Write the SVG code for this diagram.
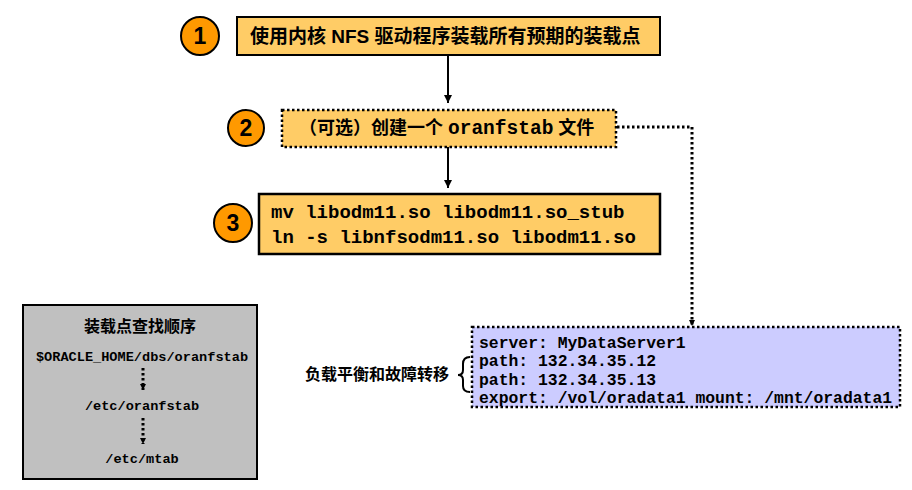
<svg xmlns="http://www.w3.org/2000/svg" width="912" height="490" viewBox="0 0 912 490">
<style>
.cn{font-family:"Liberation Sans","Noto Sans CJK SC",sans-serif;font-weight:bold;fill:#000}
.mono{font-family:"Liberation Mono","Noto Sans CJK SC",monospace;font-weight:bold;fill:#000}
.circ{fill:#FF9900;stroke:#000;stroke-width:2}
.num{font-family:"Liberation Sans",sans-serif;font-weight:bold;font-size:23px;fill:#000;text-anchor:middle}
.solid{fill:none;stroke:#000;stroke-width:2}
.dot{fill:none;stroke:#000;stroke-width:3;stroke-dasharray:2.5 2.5}
.dotbox{stroke:#000;stroke-width:2.5;stroke-dasharray:2.5 2.5}
</style>
<defs>
<marker id="ah" viewBox="0 0 8 8" refX="8" refY="4" markerWidth="8" markerHeight="8" markerUnits="userSpaceOnUse" orient="auto">
<path d="M0,0 L8,4 L0,8 z" fill="#000"/>
</marker>
<marker id="ahs" viewBox="0 0 6 6" refX="6" refY="3" markerWidth="6" markerHeight="6" markerUnits="userSpaceOnUse" orient="auto">
<path d="M0,0 L6,3 L0,6 z" fill="#000"/>
</marker>
</defs>

<g id="step1">
<circle cx="200" cy="36" r="19" class="circ"/>
<text x="200" y="44" class="num">1</text>
<rect x="237" y="17" width="423" height="38" fill="#FFCC66" stroke="#000" stroke-width="2"/>
<text x="250" y="43" class="cn" font-size="19">使用内核 NFS 驱动程序装载所有预期的装载点</text>
</g>

<g id="step2">
<circle cx="246" cy="128" r="18" class="circ"/>
<text x="246" y="136" class="num">2</text>
<rect x="282" y="110" width="334" height="37" fill="#FFCC66" class="dotbox"/>
<text x="299" y="134" class="cn" font-size="18">（可选）创建一个 <tspan class="mono" font-size="19.5">oranfstab</tspan> 文件</text>
</g>

<g id="step3">
<circle cx="233" cy="223" r="19" class="circ"/>
<text x="233" y="231" class="num">3</text>
<rect x="259" y="194" width="401" height="60" fill="#FFCC66" stroke="#000" stroke-width="2.5"/>
<text x="271" y="218" class="mono" font-size="19">mv libodm11.so libodm11.so_stub</text>
<text x="271" y="243" class="mono" font-size="19">ln -s libnfsodm11.so libodm11.so</text>
</g>

<g id="lookup">
<rect x="23" y="305" width="234" height="174" fill="#C0C0C0" stroke="#000" stroke-width="2"/>
<text x="140" y="332" class="cn" font-size="16" text-anchor="middle">装载点查找顺序</text>
<text x="142" y="361" class="mono" font-size="13.6" text-anchor="middle">$ORACLE_HOME/dbs/oranfstab</text>
<text x="142" y="410" class="mono" font-size="13.6" text-anchor="middle">/etc/oranfstab</text>
<text x="142" y="463" class="mono" font-size="13.6" text-anchor="middle">/etc/mtab</text>
</g>

<g id="oranfstab">
<rect x="472" y="327" width="428" height="80" fill="#CCCCFF" class="dotbox"/>
<text x="479" y="348" class="mono" font-size="16.4">server: MyDataServer1</text>
<text x="479" y="366" class="mono" font-size="16.4">path: 132.34.35.12</text>
<text x="479" y="385" class="mono" font-size="16.4">path: 132.34.35.13</text>
<text x="479" y="403" class="mono" font-size="16.4">export: /vol/oradata1 mount: /mnt/oradata1</text>
</g>

<g id="failover">
<text x="305" y="380" class="cn" font-size="16">负载平衡和故障转移</text>
<path d="M470,357 Q463,357 463,364 L463,370 Q463,375 458,375 Q463,375 463,380 L463,386 Q463,392 470,392" fill="none" stroke="#000" stroke-width="2"/>
</g>

<g id="connectors">
<line x1="448" y1="55" x2="448" y2="103" class="solid" marker-end="url(#ah)"/>
<line x1="448" y1="147" x2="448" y2="188" class="solid" marker-end="url(#ah)"/>
<polyline points="617,127 692,127 692,326" class="dot" marker-end="url(#ahs)"/>
<line x1="143" y1="368" x2="143" y2="390" class="dot" marker-end="url(#ahs)"/>
<line x1="143" y1="418" x2="143" y2="444" class="dot" marker-end="url(#ahs)"/>
</g>
</svg>
